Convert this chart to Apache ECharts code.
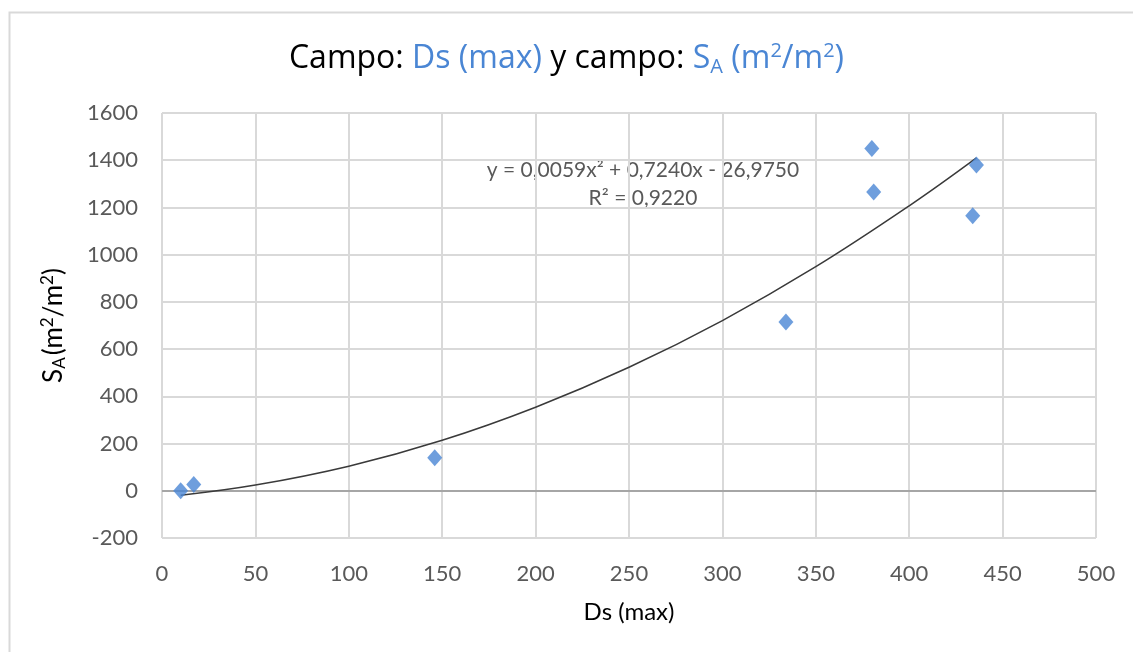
<!DOCTYPE html>
<html>
<head>
<meta charset="utf-8">
<script src="https://cdn.jsdelivr.net/npm/echarts@6/dist/echarts.min.js"></script>
<style>
  html, body { margin: 0; padding: 0; background: #fff; }
  #chart { width: 1133px; height: 652px; }
</style>
</head>
<body>
<div id="chart"></div>
<script>
// measured points: Ds (max) vs S_A (m2/m2)
const dsMax = [10, 17, 146, 334, 380, 381, 436, 434];
const sA = [0, 27, 140, 715, 1450, 1265, 1380, 1165];

// polynomial trend line
const trendX = [10, 50, 100, 150, 200, 250, 300, 350, 400, 436];
const trendY = [-19, 24, 104, 214, 354, 523, 721, 949, 1207, 1410];

const xTicks = { min: 0, max: 500, interval: 50 };
const yTicks = { min: -200, max: 1600, interval: 200 };

const equationText = 'y = 0,0059x² + 0,7240x - 26,9750';
const r2Text = 'R² = 0,9220';

const BLUE = '#4a86d4';
const GRID = '#d9d9d9';
const LABEL = '#595959';
const FONT = 'Lato, "Open Sans", sans-serif';
const TITLE_FONT = '"Open Sans", Lato, sans-serif';

const myChart = echarts.init(document.getElementById('chart'));

const option = {
  animation: false,
  textStyle: { fontFamily: FONT },
  title: {
    left: 'center',
    top: 35,
    text: '{k|Campo: }{b|Ds (max)}{k| y campo: }{b|S}{bs|A}{b| (m}{bu|2}{b|/m}{bu|2}{b|)}',
    textStyle: {
      fontWeight: 'normal',
      rich: {
        k: { fontSize: 32, color: '#000', fontFamily: TITLE_FONT, fontWeight: 'normal' },
        b: { fontSize: 32, color: BLUE, fontFamily: TITLE_FONT, fontWeight: 'normal' },
        bs: { fontSize: 20, color: BLUE, fontFamily: TITLE_FONT, fontWeight: 'normal', padding: [17, 0, 0, 0] },
        bu: { fontSize: 20, color: BLUE, fontFamily: TITLE_FONT, fontWeight: 'normal', padding: [0, 0, 15, 0] },
      },
    },
  },
  grid: {
    left: 162,
    right: 37,
    top: 113,
    bottom: 114,
  },
  xAxis: {
    type: 'value',
    min: xTicks.min,
    max: xTicks.max,
    interval: xTicks.interval,
    name: 'Ds (max)',
    nameLocation: 'middle',
    nameGap: 62,
    nameTextStyle: { fontSize: 24, color: '#000', fontFamily: FONT },
    axisLine: { show: false, onZero: false },
    axisTick: { show: false },
    splitLine: { show: true, lineStyle: { color: GRID, width: 2 } },
    axisLabel: { fontSize: 22, color: LABEL, margin: 25, fontFamily: FONT },
  },
  yAxis: {
    type: 'value',
    min: yTicks.min,
    max: yTicks.max,
    interval: yTicks.interval,
    name: '{n|S}{s|A}{n|(m}{u|2}{n|/m}{u|2}{n|)}',
    nameLocation: 'middle',
    nameRotate: 90,
    nameGap: 94,
    nameTextStyle: {
      rich: {
        n: { fontSize: 26, color: '#000', fontFamily: FONT },
        s: { fontSize: 17, color: '#000', fontFamily: FONT, padding: [12, 2, 0, 0] },
        u: { fontSize: 17, color: '#000', fontFamily: FONT, padding: [0, 0, 11, 0] },
      },
    },
    axisLine: { show: false },
    axisTick: { show: false },
    splitLine: { show: true, lineStyle: { color: GRID, width: 2 } },
    axisLabel: {
      fontSize: 22,
      color: LABEL,
      margin: 24,
      fontFamily: FONT,
      formatter: (v) => String(v),
    },
  },
  graphic: [
    {
      type: 'rect',
      silent: true,
      shape: { x: 9.5, y: 12.5, width: 1200, height: 700 },
      style: { fill: 'none', stroke: GRID, lineWidth: 2 },
      z: -10,
    },
    {
      type: 'text',
      x: 643,
      y: 160,
      style: { text: equationText, fontSize: 21, fill: LABEL, fontFamily: FONT, align: 'center' },
    },
    {
      type: 'text',
      x: 643,
      y: 188,
      style: { text: r2Text, fontSize: 21, fill: LABEL, fontFamily: FONT, align: 'center' },
    },
  ],
  series: [
    {
      name: 'tendencia',
      type: 'line',
      data: trendX.map((x, i) => [x, trendY[i]]),
      smooth: 0.4,
      symbol: 'none',
      lineStyle: { color: '#3a3a3a', width: 1.5 },
      z: 3,
      markLine: {
        silent: true,
        symbol: 'none',
        label: { show: false },
        lineStyle: { color: '#a6a6a6', width: 2, type: 'solid' },
        data: [{ yAxis: 0 }],
        z: 1,
      },
    },
    {
      name: 'datos',
      type: 'scatter',
      data: dsMax.map((x, i) => [x, sA[i]]),
      symbol: 'diamond',
      symbolSize: [15, 17],
      itemStyle: { color: BLUE },
      z: 4,
    },
  ],
};

myChart.setOption(option);
</script>
</body>
</html>
